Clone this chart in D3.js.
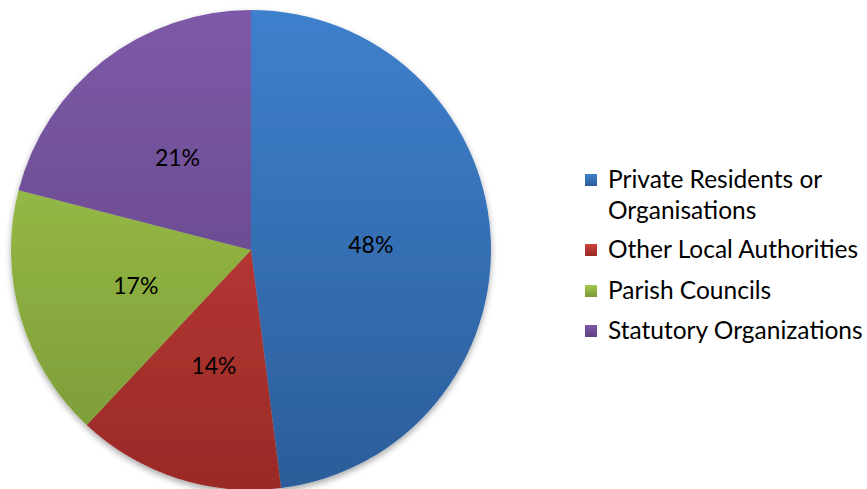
<!DOCTYPE html>
<html>
<head>
<meta charset="utf-8">
<script src="https://cdn.jsdelivr.net/npm/d3@7"></script>
<style>
  body { margin: 0; background: #fff; }
  svg { display: block; font-family: Lato, "Open Sans", sans-serif; }
</style>
</head>
<body>
<svg id="chart"></svg>
<script>
const categories = ['Private Residents or Organisations', 'Other Local Authorities', 'Parish Councils', 'Statutory Organizations']
const values = [48, 14, 17, 21]
const legendLines = [['Private Residents or', 'Organisations'], ['Other Local Authorities'], ['Parish Councils'], ['Statutory Organizations']]
const topColours = ['#3e80cc', '#cc413d', '#a4ca4d', '#7d59a8']
const bottomColours = ['#2b5d9a', '#992a27', '#789836', '#5c427e']

const width = 867
const height = 489
const cx = 251, cy = 250, radius = 240

const data = categories.map((c, i) => ({name: c, value: values[i], i}))

const svg = d3.select('#chart')
    .attr('width', width)
    .attr('height', height)

const defs = svg.append('defs')

// vertical gradient per slice, spanning the whole pie (group coords)
data.forEach(d => {
    const g = defs.append('linearGradient')
        .attr('id', 'grad' + d.i)
        .attr('gradientUnits', 'userSpaceOnUse')
        .attr('x1', 0).attr('y1', -radius)
        .attr('x2', 0).attr('y2', radius)
    g.append('stop').attr('offset', '0%').attr('stop-color', topColours[d.i])
    g.append('stop').attr('offset', '100%').attr('stop-color', bottomColours[d.i])
    const lg = defs.append('linearGradient')
        .attr('id', 'lgrad' + d.i)
        .attr('x1', 0).attr('y1', 0).attr('x2', 0).attr('y2', 1)
    lg.append('stop').attr('offset', '0%').attr('stop-color', topColours[d.i])
    lg.append('stop').attr('offset', '100%').attr('stop-color', bottomColours[d.i])
})

const shadow = defs.append('filter')
    .attr('id', 'shadow')
    .attr('x', '-10%').attr('y', '-10%').attr('width', '120%').attr('height', '120%')
shadow.append('feDropShadow')
    .attr('dx', 0).attr('dy', 3)
    .attr('stdDeviation', 3)
    .attr('flood-color', '#000')
    .attr('flood-opacity', 0.35)

const pie = d3.pie().value(d => d.value).sort(null)
const arc = d3.arc().innerRadius(0).outerRadius(radius)
const labelArc = d3.arc().innerRadius(radius * 0.5).outerRadius(radius * 0.5)

const g = svg.append('g')
    .attr('transform', `translate(${cx}, ${cy})`)

// slices
g.append('g')
    .attr('filter', 'url(#shadow)')
    .selectAll('path')
    .data(pie(data))
    .enter()
    .append('path')
        .attr('d', arc)
        .attr('fill', d => `url(#grad${d.data.i})`)

// percent labels
g.selectAll('text.label')
    .data(pie(data))
    .enter()
    .append('text')
        .attr('class', 'label')
        .attr('transform', d => `translate(${labelArc.centroid(d)})`)
        .attr('text-anchor', 'middle')
        .attr('dy', '0.45em')
        .style('font-size', '23px')
        .style('fill', '#000')
        .text(d => d.data.value + '%')

// legend
const rowY = [180, 250, 291, 331]
const legend = svg.append('g')
    .attr('transform', 'translate(585, 0)')
const rows = legend.selectAll('g')
    .data(data)
    .enter()
    .append('g')
        .attr('transform', d => `translate(0, ${rowY[d.i]})`)
rows.append('rect')
    .attr('x', 0).attr('y', -6)
    .attr('width', 12).attr('height', 12)
    .attr('fill', d => `url(#lgrad${d.i})`)
rows.append('text')
    .attr('x', 23)
    .attr('y', 8)
    .style('font-size', '24.5px')
    .style('fill', '#000')
    .selectAll('tspan')
    .data(d => legendLines[d.i])
    .enter()
    .append('tspan')
        .attr('x', 23)
        .attr('dy', (d, j) => j === 0 ? 0 : 31)
        .text(d => d)
</script>
</body>
</html>
